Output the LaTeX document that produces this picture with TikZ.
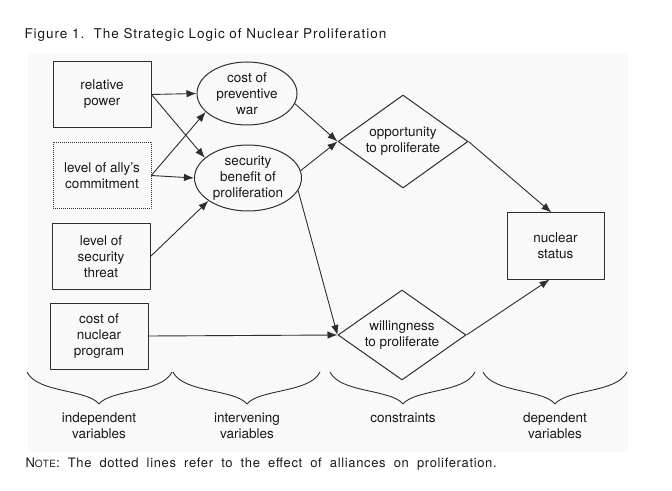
\documentclass[tikz,border=0pt]{standalone}
\usepackage{fontspec}
\setmainfont{TeX Gyre Heros}
\newfontfamily\titlefont[LetterSpace=7]{TeX Gyre Heros}
\newfontfamily\notefont[LetterSpace=5,WordSpace=1.9]{TeX Gyre Heros}
\usetikzlibrary{arrows.meta,shapes.geometric}

\definecolor{linecol}{rgb}{0.18,0.18,0.18}
\definecolor{textcol}{rgb}{0.1,0.1,0.1}
\definecolor{bgcol}{rgb}{0.975,0.975,0.975}

\tikzset{
  vartext/.style={text=textcol, align=center, font=\fontsize{13.5bp}{16bp}\selectfont},
  varbox/.style={vartext, draw=linecol, line width=1bp, minimum width=98bp, minimum height=66bp, inner sep=2bp},
  allybox/.style={varbox, line width=0.6bp, dash pattern=on 1bp off 1bp},
  varell/.style={vartext, draw=linecol, ellipse, line width=1bp, inner sep=0pt},
  vardia/.style={vartext, draw=linecol, diamond, aspect=1.4, line width=1bp, inner sep=0pt},
  bracecurve/.style={draw=linecol, line width=0.9bp},
  labtext/.style={vartext, anchor=north},
  link/.style={->, linecol, line width=0.9bp},
}

\begin{document}
\begin{tikzpicture}[x=1bp,y=-1bp,>={Latex[length=10bp,width=7.5bp]},line join=bevel]
  \useasboundingbox (0,0) rectangle (672,491);
  \fill [bgcol] (28,54) rectangle (628,452);
%%
  % Title and note
  \node [anchor=west, text=textcol, font=\titlefont\fontsize{13.5bp}{15bp}\selectfont] (title) at (21,35)
    {Figure 1.\ \ The Strategic Logic of Nuclear Proliferation};
  \node [anchor=west, text=textcol, font=\notefont\fontsize{13bp}{15bp}\selectfont] (note) at (22,464)
    {N{\fontsize{10bp}{11bp}\selectfont OTE}: The dotted lines refer to the effect of alliances on proliferation.};
  % Node: independent variables
  \node [varbox] (rp) at (102,94.5) {relative\\power};
  \node [allybox] (acm) at (102,175.5) {level of ally's\\commitment};
  \node [varbox] (sst) at (101,256.5) {level of\\security\\threat};
  \node [varbox] (cnp) at (99,336) {cost of\\nuclear\\program};
  % Node: intervening variables
  \node [varell, minimum width=100bp, minimum height=63bp] (cpw) at (247,93.5) {cost of\\preventive\\war};
  \node [varell, minimum width=107bp, minimum height=66bp] (sbp) at (248,178) {security\\benefit of\\proliferation};
  % Node: constraints
  \node [vardia, minimum width=130bp, minimum height=93bp] (otp) at (403,141.5) {opportunity\\to proliferate};
  \node [vardia, minimum width=128bp, minimum height=90bp] (wtp) at (402,335) {willingness\\to proliferate};
  % Node: dependent variable
  \node [varbox, minimum width=97bp] (nst) at (555.5,246) {nuclear\\status};
  % Edge: independent -> intervening
  \draw [link] (rp.east) -- (cpw.west);
  \draw [link] (rp.east) -- (sbp.155);
  \draw [link] (acm.east) -- (cpw.204);
  \draw [link] (acm.east) -- (sbp.west);
  \draw [link] (sst.east) -- (sbp.210);
  \draw [link] (cnp.east) -- (wtp.west);
  % Edge: intervening -> constraints
  \draw [link] (cpw.-12) -- (otp.west);
  \draw [link] (sbp.8) -- (otp.west);
  \draw [link] (sbp.-14) -- (wtp.west);
  % Edge: constraints -> nuclear status
  \draw [link] (otp.east) -- (nst.97);
  \draw [link] (wtp.east) -- (nst.-100);
  % Braces and their labels
  \foreach \l/\m/\r/\nm/\txt in {27/99/172/indep/{independent\\variables},
      173/247/320/interv/{intervening\\variables},
      330/403/475/constr/{constraints},
      483/555/627/depend/{dependent\\variables}} {
    \draw [bracecurve] (\l,372) .. controls (\l+10,393) and (\m-12,389) .. (\m,404)
      .. controls (\m+12,389) and (\r-10,393) .. (\r,372);
    \node [labtext] (\nm) at (\m,409) {\txt};
  }
%
\end{tikzpicture}
\end{document}
